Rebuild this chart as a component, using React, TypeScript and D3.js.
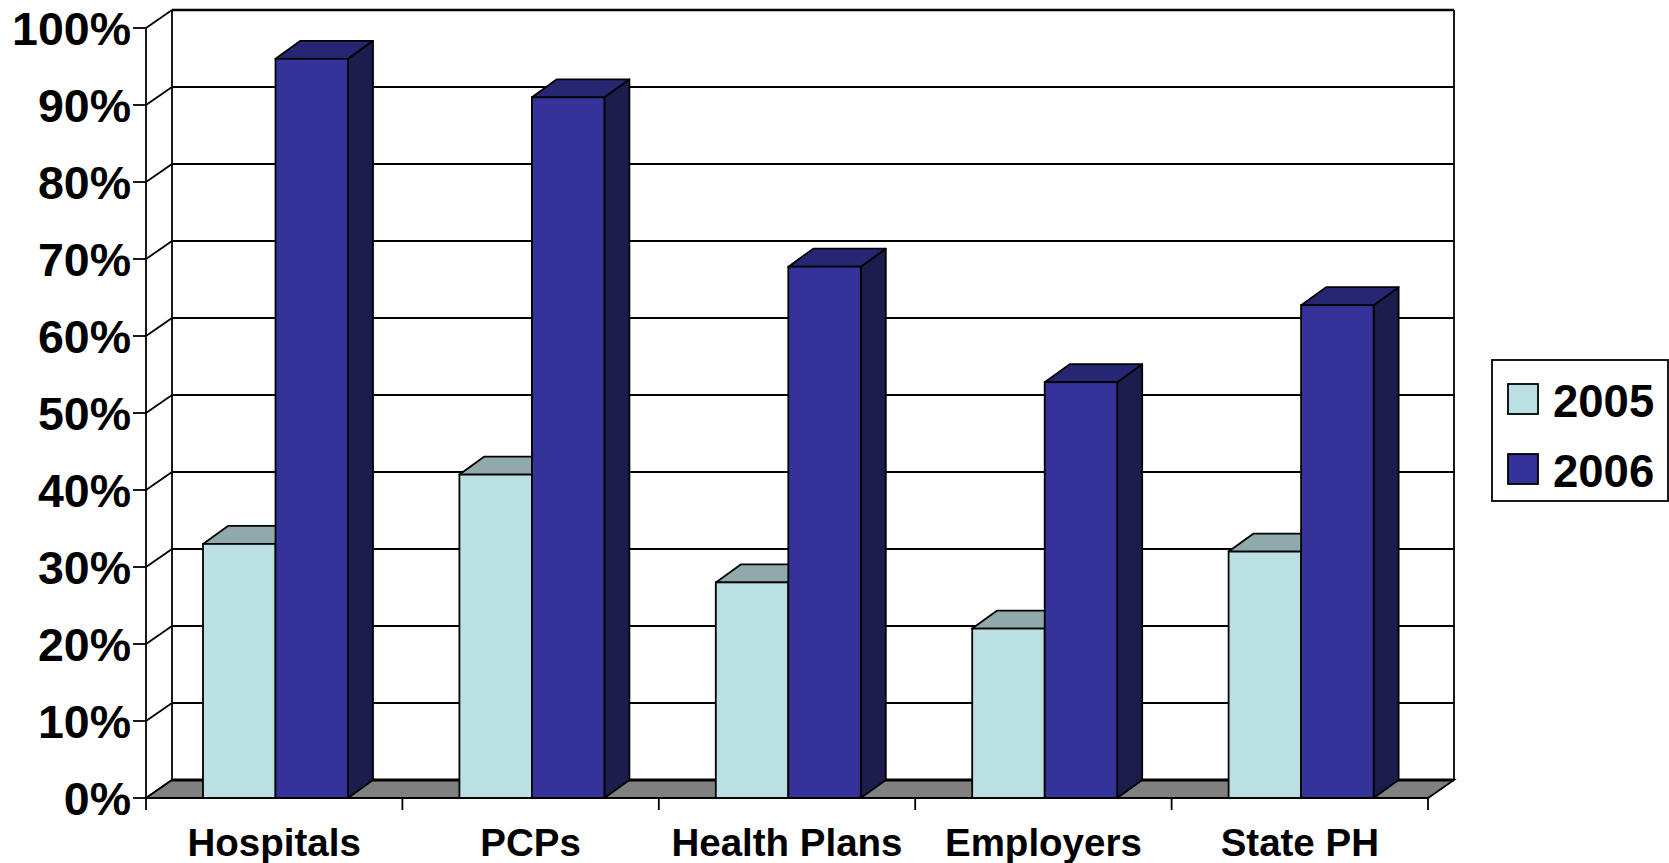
import React from "react";
import * as d3 from "d3";

const categories = ["Hospitals", "PCPs", "Health Plans", "Employers", "State PH"];
const seriesNames = ["2005", "2006"];
const values2005 = [33, 42, 28, 22, 32];
const values2006 = [96, 91, 69, 54, 64];
const yTicks = [0, 10, 20, 30, 40, 50, 60, 70, 80, 90, 100];

const FONT = "'Liberation Sans', Arial, Helvetica, sans-serif";
const colors = {
  "2005": { front: "#BBE0E3", top: "#8FA9AC", side: "#7E9698" },
  "2006": { front: "#333399", top: "#262673", side: "#1C1C4D" },
};

export default function App() {
  const W = 1669, H = 863;
  const left = 146, right = 1428, bottom = 798, top = 28;
  const DX = 26, DY = -18; // wall depth
  const BDX = 25, BDY = -18; // bar depth

  const x = d3.scaleBand<string>().domain(categories).range([left, right]).padding(0);
  const xs = d3.scaleBand<string>().domain(seriesNames).range([57, 202]).padding(0);
  const y = d3.scaleLinear().domain([0, 100]).range([bottom, top]);

  const data = [values2005, values2006];
  const sw = 1.8;

  const poly = (pts: [number, number][]) => "M" + pts.map((p) => p.join(",")).join("L") + "Z";

  return (
    <svg width={W} height={H} style={{ position: "absolute", left: 0, top: 0, background: "#fff" }}>
      {/* back wall */}
      <rect x={left + DX} y={top + DY} width={right - left} height={bottom - top} fill="#fff" />
      {/* gridlines on back wall */}
      {yTicks.map((t) => (
        <line key={"g" + t} x1={left + DX} x2={right + DX} y1={y(t) + DY} y2={y(t) + DY} stroke="#000" strokeWidth={sw} />
      ))}
      {/* left wall diagonals */}
      {yTicks.map((t) => (
        <line key={"d" + t} x1={left} x2={left + DX} y1={y(t)} y2={y(t) + DY} stroke="#000" strokeWidth={sw} />
      ))}
      {/* back wall borders */}
      <line x1={left + DX} x2={left + DX} y1={y(100) + DY} y2={y(0) + DY} stroke="#000" strokeWidth={sw} />
      <line x1={right + DX} x2={right + DX} y1={y(100) + DY} y2={y(0) + DY} stroke="#000" strokeWidth={sw} />
      <line x1={left + DX} x2={right + DX} y1={y(100) + DY} y2={y(100) + DY} stroke="#000" strokeWidth={2.4} />
      {/* floor */}
      <path
        d={poly([
          [left, y(0)],
          [right, y(0)],
          [right + DX, y(0) + DY],
          [left + DX, y(0) + DY],
        ])}
        fill="#808080"
        stroke="#000"
        strokeWidth={sw}
      />
      <line x1={left + DX} x2={right + DX} y1={y(0) + DY} y2={y(0) + DY} stroke="#000" strokeWidth={3} />
      {/* left axis */}
      <line x1={left} x2={left} y1={y(100)} y2={y(0) + 12} stroke="#000" strokeWidth={sw} />
      {yTicks.map((t) => (
        <g key={"t" + t}>
          <line x1={left - 13} x2={left} y1={y(t)} y2={y(t)} stroke="#000" strokeWidth={sw} />
          <text x={131} y={y(t) + 16.5} textAnchor="end" fontFamily={FONT} fontWeight="bold" fontSize={46.5} fill="#000">
            {t + "%"}
          </text>
        </g>
      ))}
      {/* category ticks */}
      {categories.map((c) => (
        <line key={"ct" + c} x1={x(c)! + x.bandwidth()} x2={x(c)! + x.bandwidth()} y1={y(0)} y2={y(0) + 12} stroke="#000" strokeWidth={sw} />
      ))}
      {/* bars */}
      {categories.map((c, ci) => (
        <g key={"b" + c}>
          {seriesNames.map((s, si) => {
            const v = data[si][ci];
            const x0 = x(c)! + xs(s)!;
            const x1 = x0 + xs.bandwidth();
            const yt = y(v);
            const yb = y(0);
            const col = (colors as any)[s];
            return (
              <g key={s}>
                <path
                  d={poly([
                    [x1, yb],
                    [x1 + BDX, yb + BDY],
                    [x1 + BDX, yt + BDY],
                    [x1, yt],
                  ])}
                  fill={col.side}
                  stroke="#000"
                  strokeWidth={sw}
                  strokeLinejoin="round"
                />
                <path
                  d={poly([
                    [x0, yt],
                    [x0 + BDX, yt + BDY],
                    [x1 + BDX, yt + BDY],
                    [x1, yt],
                  ])}
                  fill={col.top}
                  stroke="#000"
                  strokeWidth={sw}
                  strokeLinejoin="round"
                />
                <rect x={x0} y={yt} width={x1 - x0} height={yb - yt} fill={col.front} stroke="#000" strokeWidth={sw} />
              </g>
            );
          })}
        </g>
      ))}
      {/* front axis line */}
      <line x1={left} x2={right} y1={y(0)} y2={y(0)} stroke="#000" strokeWidth={sw} />
      {/* category labels */}
      {categories.map((c) => (
        <text key={"l" + c} x={x(c)! + x.bandwidth() / 2} y={856} textAnchor="middle" fontFamily={FONT} fontWeight="bold" fontSize={38.5} fill="#000">
          {c}
        </text>
      ))}
      {/* legend */}
      <rect x={1492} y={360} width={176} height={141} fill="#fff" stroke="#000" strokeWidth={sw} />
      {seriesNames.map((s, i) => (
        <g key={"lg" + s}>
          <rect x={1508} y={384 + i * 70} width={30} height={30} fill={(colors as any)[s].front} stroke="#000" strokeWidth={sw} />
          <text x={1553} y={416.5 + i * 70} fontFamily={FONT} fontWeight="bold" fontSize={45.5} fill="#000">
            {s}
          </text>
        </g>
      ))}
    </svg>
  );
}
